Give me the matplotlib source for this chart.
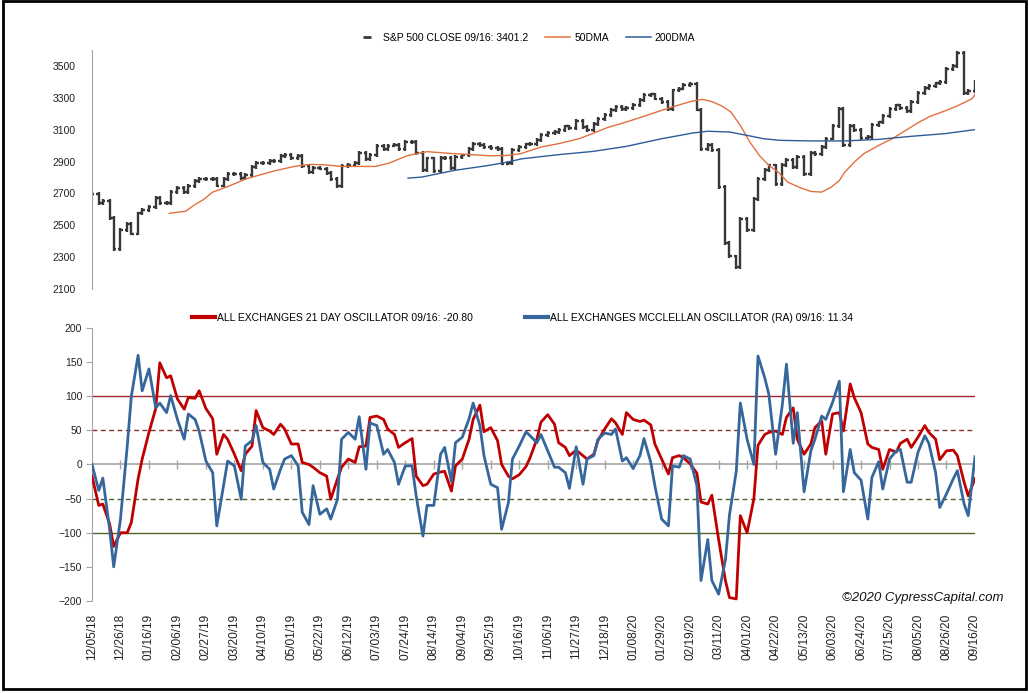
import numpy as np
import pandas as pd
import matplotlib
matplotlib.use("Agg")
import matplotlib.pyplot as plt
import matplotlib.dates as mdates
from matplotlib.lines import Line2D
from matplotlib.patches import Rectangle

plt.rcParams['font.family'] = ['Liberation Sans', 'DejaVu Sans']

# every third trading day from 12/05/18 to 09/16/20
dates = pd.date_range("2018-12-05", periods=156, freq="3B")
tick_dates = pd.date_range("2018-12-05", "2020-09-16", freq="21D")

spx_close = [
    2696, 2638, 2651, 2546, 2351, 2468, 2507, 2448, 2574, 2596,
    2616, 2671, 2642, 2640, 2707, 2732, 2710, 2746, 2780, 2793,
    2792, 2793, 2749, 2792, 2822, 2824, 2798, 2815, 2867, 2893,
    2888, 2906, 2905, 2934, 2940, 2924, 2932, 2871, 2834, 2860,
    2856, 2826, 2789, 2744, 2873, 2880, 2890, 2954, 2917, 2942,
    2996, 2976, 3000, 3004, 2977, 3020, 3021, 2954, 2845, 2919,
    2841, 2924, 2923, 2860, 2926, 2938, 2978, 3010, 3006, 2992,
    2985, 2977, 2887, 2893, 2970, 2990, 3007, 3010, 3037, 3067,
    3077, 3087, 3097, 3120, 3110, 3154, 3114, 3100, 3133, 3169,
    3191, 3224, 3240, 3231, 3235, 3253, 3288, 3317, 3321, 3295,
    3273, 3230, 3346, 3358, 3380, 3386, 3226, 2979, 3003, 2972,
    2741, 2386, 2304, 2237, 2541, 2471, 2664, 2790, 2846, 2875,
    2760, 2878, 2912, 2868, 2930, 2820, 2954, 2949, 2992, 3044,
    3123, 3232, 3002, 3125, 3098, 3050, 3053, 3130, 3145, 3185,
    3227, 3252, 3236, 3218, 3271, 3328, 3360, 3373, 3390, 3397,
    3479, 3500, 3580, 3332, 3341, 3401.2,
]

osc21 = [
    -17, -60, -58, -87, -120, -100, -100, -85, -21, 8,
    47, 82, 149, 127, 130, 96, 81, 98, 97, 108,
    82, 67, 15, 44, 37, 15, -9, 15, 27, 79,
    54, 49, 44, 59, 52, 30, 30, 3, 0, -4,
    -12, -17, -51, -21, -4, 8, 3, 26, 27, 69,
    71, 66, 52, 44, 25, 32, 38, -17, -31, -29,
    -14, -11, -10, -39, -2, 8, 37, 66, 87, 48,
    54, 35, 0, -17, -21, -15, -3, 10, 37, 62,
    73, 59, 32, 25, 13, 21, 13, 8, 15, 35,
    52, 67, 61, 44, 76, 66, 63, 65, 58, 30,
    8, -14, 10, 13, 10, 1, -13, -55, -58, -45,
    -110, -170, -195, -197, -75, -100, -50, 28, 44, 47,
    49, 44, 69, 83, 37, 15, 30, 54, 64, 15,
    74, 76, 49, 118, 98, 76, 30, 25, 22, -7,
    22, 18, 31, 37, 25, 40, 57, 47, 37, 7,
    20, 21, 13, -26, -46, -20.80,
]

mcclellan = [
    0, -38, -20, -95, -150, -80, 27, 100, 160, 108,
    140, 83, 90, 76, 101, 66, 37, 74, 66, 49,
    5, -12, -90, -31, 5, -2, -51, 27, 35, 57,
    3, -7, -36, -7, 8, 13, -2, -70, -88, -31,
    -73, -65, -80, -51, 37, 47, 37, 70, -7, 61,
    57, 15, 22, 3, -29, -2, -2, -46, -105, -60,
    -60, 15, 25, -25, 32, 40, 67, 90, 57, 13,
    -29, -34, -95, -56, 8, 27, 48, 42, 32, 44,
    20, -4, -4, -12, -35, 26, -29, 8, 13, 37,
    46, 44, 52, 5, 10, -6, 13, 38, 3, -31,
    -80, -90, -2, -4, 13, 8, -31, -170, -110, -170,
    -190, -140, -74, -10, 90, 37, 0, 159, 127, 103,
    15, 88, 147, 31, 76, -40, 20, 37, 71, 66,
    91, 122, -40, 22, -12, -23, -80, -19, 4, -36,
    8, 20, 22, -26, -26, 18, 42, 31, -12, -63,
    -43, -21, -9, -58, -75, 11.34,
]

dma50_dates = [
    "2019-01-31", "2019-02-12", "2019-02-19", "2019-02-25", "2019-03-04",
    "2019-03-14", "2019-03-29", "2019-04-18", "2019-05-03", "2019-05-15",
    "2019-05-24", "2019-06-07", "2019-06-21", "2019-07-02", "2019-07-12",
    "2019-07-26", "2019-08-09", "2019-08-29", "2019-09-11", "2019-09-24",
    "2019-10-07", "2019-10-17", "2019-11-01", "2019-11-14", "2019-11-29",
    "2019-12-09", "2019-12-20", "2020-01-03", "2020-01-16", "2020-01-29",
    "2020-02-10", "2020-02-20", "2020-02-28", "2020-03-06", "2020-03-13",
    "2020-03-20", "2020-03-27", "2020-04-03", "2020-04-10", "2020-04-17",
    "2020-04-24", "2020-05-01", "2020-05-11", "2020-05-18", "2020-05-26",
    "2020-06-02", "2020-06-08", "2020-06-12", "2020-06-19", "2020-06-26",
    "2020-07-07", "2020-07-17", "2020-07-27", "2020-08-06", "2020-08-14",
    "2020-08-26", "2020-09-04", "2020-09-14", "2020-09-16",
]
dma50 = [
    2575, 2588, 2630, 2660, 2708, 2739, 2792, 2840, 2869, 2882,
    2880, 2869, 2869, 2869, 2890, 2938, 2962, 2949, 2943, 2936,
    2938, 2949, 2991, 3012, 3043, 3075, 3113, 3148, 3184, 3221,
    3253, 3278, 3290, 3276, 3250, 3211, 3127, 3022, 2938, 2876,
    2833, 2770, 2733, 2712, 2708, 2739, 2781, 2833, 2896, 2949,
    3001, 3043, 3096, 3148, 3184, 3221, 3253, 3295, 3320,
]

dma200_dates = [
    "2019-07-26", "2019-08-05", "2019-08-29", "2019-09-24", "2019-10-07",
    "2019-10-18", "2019-11-14", "2019-12-09", "2020-01-03", "2020-01-29",
    "2020-02-21", "2020-03-03", "2020-03-19", "2020-04-01", "2020-04-13",
    "2020-04-25", "2020-05-18", "2020-06-12", "2020-07-07", "2020-07-31",
    "2020-08-25", "2020-09-16",
]
dma200 = [
    2796, 2802, 2844, 2876, 2896, 2917, 2943, 2963, 2995, 3043,
    3079, 3090, 3085, 3064, 3043, 3033, 3029, 3029, 3039, 3058,
    3075, 3100,
]

price_ticks = [2100, 2300, 2500, 2700, 2900, 3100, 3300, 3500]
osc_ticks = [-200, -150, -100, -50, 0, 50, 100, 150, 200]

bar_c = '#383838'
c50 = '#E2703F'
c200 = '#2E5C9A'
red = '#C00000'
blue = '#36679C'
grey = '#A6A6A6'

x = mdates.date2num(dates)
tx = mdates.date2num(tick_dates)
xlim = (x[0], x[-1])

fig = plt.figure(figsize=(10.29, 6.93), dpi=100)
ax1 = fig.add_axes([0.0894, 0.583, 0.8581, 0.3449])
ax2 = fig.add_axes([0.0894, 0.1328, 0.8581, 0.3939])

# --- price panel: bar from previous close (open) to close, small wick either side
close = np.array(spx_close)
opn = np.r_[close[0], close[:-1]]
wick = 12
ax1.vlines(x, np.minimum(opn, close) - wick, np.maximum(opn, close) + wick, color=bar_c, lw=1.7)
ax1.hlines(opn, x - 1.8, x, color=bar_c, lw=1.7)
ax1.hlines(close, x, x + 1.8, color=bar_c, lw=1.7)
ax1.plot(mdates.date2num(pd.to_datetime(dma50_dates)), dma50, color=c50, lw=1.0)
ax1.plot(mdates.date2num(pd.to_datetime(dma200_dates)), dma200, color=c200, lw=1.0)

ax1.set_xlim(xlim)
ax1.set_ylim(2100, 3600)
ax1.set_yticks(price_ticks)
ax1.set_xticks([])
for s in ['top', 'right', 'bottom']:
    ax1.spines[s].set_visible(False)
ax1.spines['left'].set_color(grey)
ax1.tick_params(axis='y', length=0, pad=12, labelsize=7.5, labelcolor='#222222')

h1 = [Line2D([], [], color=bar_c, marker='_', ls='None', ms=6, mew=2),
      Line2D([], [], color=c50, lw=1.1),
      Line2D([], [], color=c200, lw=1.1)]
fig.legend(h1, ['S&P 500 CLOSE 09/16: 3401.2', '50DMA', '200DMA'],
           loc='center', bbox_to_anchor=(0.51, 0.945), ncol=3, frameon=False,
           fontsize=7.5, handlelength=2.4, handletextpad=0.4, columnspacing=1.6)

# --- oscillator panel ---
ax2.axhline(0, color=grey, lw=1.2, zorder=1)
ax2.vlines(tx, -7, 7, color=grey, lw=1, zorder=1)
ax2.axhline(100, color='#A0282A', lw=1, zorder=1)
ax2.axhline(50, color='#8B2F2F', lw=1, ls=(0, (3.5, 2.5)), zorder=1)
ax2.axhline(-50, color='#4F6228', lw=1, ls=(0, (3.5, 2.5)), zorder=1)
ax2.axhline(-100, color='#4F6228', lw=1, zorder=1)

ax2.plot(x, osc21, color=red, lw=2.0, zorder=3)
ax2.plot(x, mcclellan, color=blue, lw=2.0, zorder=4)

ax2.set_xlim(xlim)
ax2.set_ylim(-200, 200)
ax2.set_yticks(osc_ticks)
ax2.set_xticks(tx)
ax2.xaxis.set_major_formatter(mdates.DateFormatter('%m/%d/%y'))
for s in ['top', 'right', 'bottom']:
    ax2.spines[s].set_visible(False)
ax2.spines['left'].set_color(grey)
ax2.tick_params(axis='y', length=4, color=grey, pad=3, labelsize=7.5, labelcolor='#222222')
ax2.tick_params(axis='x', length=0, pad=9, labelsize=8.6, labelrotation=90, labelcolor='#222222')

h2 = [Line2D([], [], color=red, lw=3), Line2D([], [], color=blue, lw=3)]
fig.legend(h2, ['ALL EXCHANGES 21 DAY OSCILLATOR 09/16: -20.80',
                'ALL EXCHANGES MCCLELLAN OSCILLATOR (RA) 09/16: 11.34'],
           loc='center', bbox_to_anchor=(0.508, 0.541), ncol=2, frameon=False,
           fontsize=7.5, handlelength=2.2, handletextpad=0.2, columnspacing=5.0)

fig.text(0.897, 1 - 598 / 693, '\u00a92020 CypressCapital.com', ha='center', va='center',
         style='italic', fontsize=9.5, color='#111111')

fig.add_artist(Rectangle((0.0034, 0.0058), 0.9932, 0.9928, transform=fig.transFigure,
                         fill=False, edgecolor='black', lw=2))

fig.savefig('out.png', dpi=100)
